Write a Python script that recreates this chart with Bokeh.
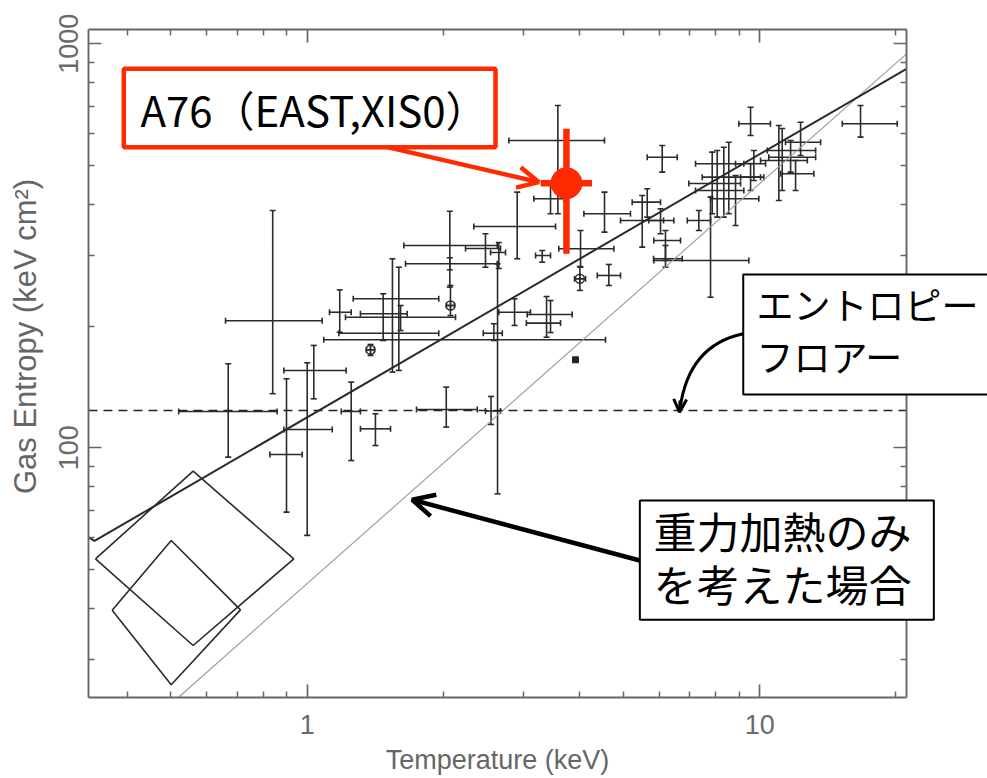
from bokeh.plotting import figure
from bokeh.models import (Range1d, LogAxis, FixedTicker, BasicTickFormatter, Whisker, TeeHead,
                          ColumnDataSource, Arrow, OpenHead)
from bokeh.core.properties import value
from bokeh.embed import file_html
from bokeh.resources import INLINE
import math

# ---------------- data ----------------
T = [0.839, 0.669, 0.900, 1.000, 1.034, 1.251, 1.415, 2.029, 2.548, 2.634,
     2.585, 2.872, 3.380, 3.449, 4.004, 4.640, 3.580, 3.449, 2.911, 2.066,
     2.073, 2.477, 2.651, 3.306, 4.018, 4.539, 6.088, 5.641, 6.036, 6.190,
     7.785, 7.335, 9.544, 16.70, 2.066, 1.543, 1.472, 1.594, 1.380, 5.499,
     6.190, 1.608, 1.180, 7.852, 8.054, 8.329, 8.543, 8.841, 9.544, 9.705,
     11.02, 11.21, 11.70, 12.31, 12.00]
T_lo = [0.660, 0.520, 0.827, 0.888, 0.888, 1.189, 1.311, 1.744, 2.477, 1.088,
        2.449, 2.651, 3.063, 3.050, 3.897, 4.374, 2.790, 3.168, 2.334, 1.635,
        2.031, 2.238, 2.542, 3.196, 3.597, 4.087, 5.641, 5.225, 5.687, 5.834,
        5.834, 6.916, 8.991, 15.22, 1.649, 1.264, 1.311, 1.175, 1.352, 4.925,
        5.825, 1.215, 1.120, 6.971, 7.213, 7.463, 7.213, 7.785, 9.070, 8.841,
        10.04, 10.39, 10.47, 11.40, 11.12]
T_hi = [1.079, 0.858, 0.975, 1.136, 1.219, 1.311, 1.528, 2.376, 2.674, 4.562,
        2.698, 3.115, 3.851, 3.629, 4.121, 4.925, 4.539, 3.690, 3.538, 2.630,
        2.116, 2.674, 2.743, 3.449, 4.761, 5.180, 6.572, 6.036, 6.459, 6.683,
        9.460, 7.785, 10.56, 20.13, 2.630, 1.953, 1.663, 1.953, 1.408, 6.130,
        6.741, 2.127, 1.251, 9.070, 9.223, 10.21, 9.223, 9.954, 10.04, 10.30,
        12.74, 13.29, 13.29, 13.63, 13.17]
S = [206.3, 123.0, 96.2, 111.0, 155.4, 123.0, 111.4, 124.4, 123.3, 185.1,
     192.1, 216.6, 213.8, 203.5, 262.0, 267.0, 576.3, 413.4, 353.0, 316.8,
     225.0, 311.5, 304.4, 299.2, 311.0, 379.6, 524.0, 405.5, 365.3, 326.0,
     290.9, 365.3, 633.9, 633.9, 285.4, 233.8, 214.7, 192.1, 174.8, 365.3,
     293.7, 210.5, 216.5, 451.1, 433.5, 467.6, 504.7, 413.4, 467.6, 504.7,
     514.2, 544.4, 524.0, 570.7, 476.7]
S_lo = [136.1, 94.8, 69.3, 60.7, 132.2, 93.0, 101.3, 112.5, 114.2, 76.9,
        184.3, 200.8, 187.8, 192.9, 245.2, 252.2, 379.6, 379.6, 293.7, 249.8,
        212.5, 279.9, 277.8, 288.0, 279.9, 341.8, 481.1, 372.3, 338.7, 290.9,
        235.9, 345.1, 593.0, 587.3, 275.8, 153.9, 184.3, 155.4, 169.2, 313.8,
        279.9, 195.1, 193.2, 379.6, 372.3, 372.3, 379.6, 354.9, 433.5, 458.8,
        409.5, 433.5, 481.1, 529.1, 433.5]
S_hi = [386.6, 161.4, 148.2, 162.3, 179.2, 145.4, 121.4, 141.3, 134.0, 285.4,
        202.8, 233.8, 236.8, 231.5, 281.1, 284.3, 703.5, 451.9, 429.3, 385.1,
        252.2, 338.7, 322.2, 307.9, 345.1, 429.3, 560.2, 437.6, 390.5, 345.1,
        417.2, 386.7, 696.7, 703.5, 295.3, 293.7, 240.5, 279.9, 180.2, 421.2,
        316.8, 225.0, 246.0, 539.2, 544.4, 554.6, 570.7, 472.1, 505.5, 544.4,
        627.8, 617.1, 576.3, 639.6, 514.2]

circle_T = [4.004, 2.073, 1.380]
circle_S = [262.0, 225.0, 174.8]
square_T = [3.916]
square_S = [165.1]

# A76 (EAST, XIS0)
a76_T, a76_T_lo, a76_T_hi = 3.74, 3.28, 4.26
a76_S, a76_S_lo, a76_S_hi = 451.8, 302.0, 616.0

# lines
fit_T = [0.3289, 0.3388, 0.3510, 21.10]
fit_S = [60.0, 58.8, 60.15, 867.0]
grav_T = [0.519, 21.10]
grav_S = [24.09, 944.6]
floor_T = [0.3286, 21.10]
floor_S = [123.7, 123.7]

diamond_big_T = [0.3405, 0.5597, 0.934, 0.5597, 0.3405]
diamond_big_S = [53.1, 87.5, 53.1, 32.4, 53.1]
diamond_small_T = [0.3707, 0.5006, 0.712, 0.5006, 0.3707]
diamond_small_S = [39.6, 58.96, 39.7, 25.9, 39.6]

x_major = [1, 10]
x_minor = [0.4, 0.5, 0.6, 0.7, 0.8, 0.9, 2, 3, 4, 5, 6, 7, 8, 9, 20]
y_major = [100, 1000]
y_minor = [30, 40, 50, 60, 70, 80, 90, 200, 300, 400, 500, 600, 700, 800, 900]
x_labels = {1: "1", 10: "10"}
y_labels = {100: "100", 1000: "1000"}

x_title = "Temperature (keV)"
y_title = "Gas Entropy (keV cm²)"
a76_text = "A76（EAST,XIS0）"
floor_text = ["エントロピー", "フロアー"]
grav_text = ["重力加熱のみ", "を考えた場合"]

# ---------------- figure ----------------
AXC = "#666666"
INK = "#2b2b2b"
RED = "#FF2A00"

p = figure(width=987, height=778, x_axis_type="log", y_axis_type="log",
           x_range=Range1d(0.32864, 21.10), y_range=Range1d(24.09, 1084.9),
           output_backend="svg", toolbar_location=None,
           min_border_left=88, min_border_right=81, min_border_top=29, min_border_bottom=81)
p.background_fill_color = "white"
p.border_fill_color = "white"
p.outline_line_color = None
p.xgrid.visible = False
p.ygrid.visible = False

p.add_layout(LogAxis(), "above")
p.add_layout(LogAxis(), "right")


def style_axis(ax, major, minor, labels, show, vertical=False):
    ax.ticker = FixedTicker(ticks=major, minor_ticks=minor)
    ax.formatter = BasicTickFormatter()
    ax.axis_label = None
    ax.major_tick_in = 13
    ax.major_tick_out = 0
    ax.minor_tick_in = 6
    ax.minor_tick_out = 0
    ax.axis_line_color = AXC
    ax.axis_line_width = 1.9
    ax.major_tick_line_color = AXC
    ax.major_tick_line_width = 1.7
    ax.minor_tick_line_color = AXC
    ax.minor_tick_line_width = 1.5
    if show:
        ax.major_label_overrides = labels
        ax.major_label_text_font = "Liberation Sans"
        ax.major_label_text_font_size = "27px"
        ax.major_label_text_color = "#6a6a6a"
        if vertical:
            ax.major_label_orientation = "vertical"
            ax.major_label_standoff = 10
        else:
            ax.major_label_standoff = 17
    else:
        ax.major_label_overrides = {k: "" for k in labels}
        ax.major_label_standoff = 0


style_axis(p.below[0], x_major, x_minor, x_labels, True)
style_axis(p.above[0], x_major, x_minor, x_labels, False)
style_axis(p.left[0], y_major, y_minor, y_labels, True, vertical=True)
style_axis(p.right[0], y_major, y_minor, y_labels, False)

# axis titles, placed as in the original (overlay level so that they are not clipped)
TITLE_FONT = value("Liberation Sans")
p.text(x=[2.634], y=[16.83], text=[x_title], text_align="center", text_baseline="middle",
       text_font=TITLE_FONT, text_font_size=value("27px"), text_color="#666666", level="overlay")
p.text(x=[0.2385], y=[188.6], text=[y_title], angle=math.pi / 2, text_align="center",
       text_baseline="middle", text_font=TITLE_FONT, text_font_size=value("31px"),
       text_color="#666666", level="overlay")

# ---------------- lines ----------------
p.line(grav_T, grav_S, line_color="#9a9a9a", line_width=1.1)
p.line(floor_T, floor_S, line_color="#222222", line_width=1.5, line_dash="9 6")
p.line(fit_T, fit_S, line_color="#2a2a2a", line_width=2.0)
p.line(diamond_big_T, diamond_big_S, line_color=INK, line_width=1.6)
p.line(diamond_small_T, diamond_small_S, line_color=INK, line_width=1.6)

# ---------------- error bars ----------------
src = ColumnDataSource(dict(T=T, T_lo=T_lo, T_hi=T_hi, S=S, S_lo=S_lo, S_hi=S_hi))


def tee():
    return TeeHead(size=6, line_color=INK, line_width=1.6)


p.add_layout(Whisker(source=src, base="S", lower="T_lo", upper="T_hi", dimension="width",
                     line_color=INK, line_width=1.6, upper_head=tee(), lower_head=tee()))
p.add_layout(Whisker(source=src, base="T", lower="S_lo", upper="S_hi", dimension="height",
                     line_color=INK, line_width=1.6, upper_head=tee(), lower_head=tee()))
p.scatter(circle_T, circle_S, marker="circle_cross", size=9, fill_color=None,
          line_color=INK, line_width=1.4)
p.scatter(square_T, square_S, marker="square", size=6, fill_color="#222222", line_color="#222222")

# ---------------- highlighted cluster ----------------
p.segment(x0=[a76_T], y0=[a76_S_lo], x1=[a76_T], y1=[a76_S_hi], line_color=RED, line_width=6.5)
p.segment(x0=[a76_T_lo], y0=[a76_S], x1=[a76_T_hi], y1=[a76_S], line_color=RED, line_width=6.5)
p.scatter([a76_T], [a76_S], marker="circle", size=31, fill_color=RED, line_color=RED)

# ---------------- arrows ----------------
p.add_layout(Arrow(x_start=1.503, y_start=554.8, x_end=3.250, y_end=454.4,
                   line_color=RED, line_width=4.5,
                   end=OpenHead(size=21, line_color=RED, line_width=4.5)))
p.quadratic(x0=[9.186], y0=[191.5], x1=[6.667], y1=[125.1], cx=[6.96], cy=[179.1],
            line_color="black", line_width=3)
p.add_layout(Arrow(x_start=6.667, y_start=130.9, x_end=6.650, y_end=122.5,
                   line_color="black", line_width=3,
                   end=OpenHead(size=13, line_color="black", line_width=3)))
p.add_layout(Arrow(x_start=5.433, y_start=52.6, x_end=1.706, y_end=74.35,
                   line_color="black", line_width=4.5,
                   end=OpenHead(size=22, line_color="black", line_width=4.5)))

# ---------------- call-out boxes (overlay level, may pass the frame) ----------------
p.quad(left=[0.3933], right=[2.607], top=[867.0], bottom=[554.8],
       fill_color="white", line_color=RED, line_width=4.5, level="overlay")
p.quad(left=[9.195], right=[34.06], top=[268.5], bottom=[135.5],
       fill_color="white", line_color="black", line_width=2, level="overlay")
p.quad(left=[5.433], right=[24.25], top=[74.06], bottom=[37.53],
       fill_color="white", line_color="black", line_width=2, level="overlay")

JP = value("Noto Sans CJK JP")
p.text(x=[0.4281], y=[691.8], text=[a76_text], text_align="left", text_baseline="middle",
       text_font=JP, text_font_size=value("42px"), text_color="black", level="overlay")
p.text(x=[9.838, 9.838], y=[227.0, 168.3], text=floor_text, text_align="left",
       text_baseline="middle", text_font=JP, text_font_size=value("37px"),
       text_color="black", level="overlay")
p.text(x=[5.825, 5.825], y=[62.57, 46.14], text=grav_text, text_align="left",
       text_baseline="middle", text_font=JP, text_font_size=value("43px"),
       text_color="black", level="overlay")

open("out.html", "w").write(file_html(p, INLINE))
